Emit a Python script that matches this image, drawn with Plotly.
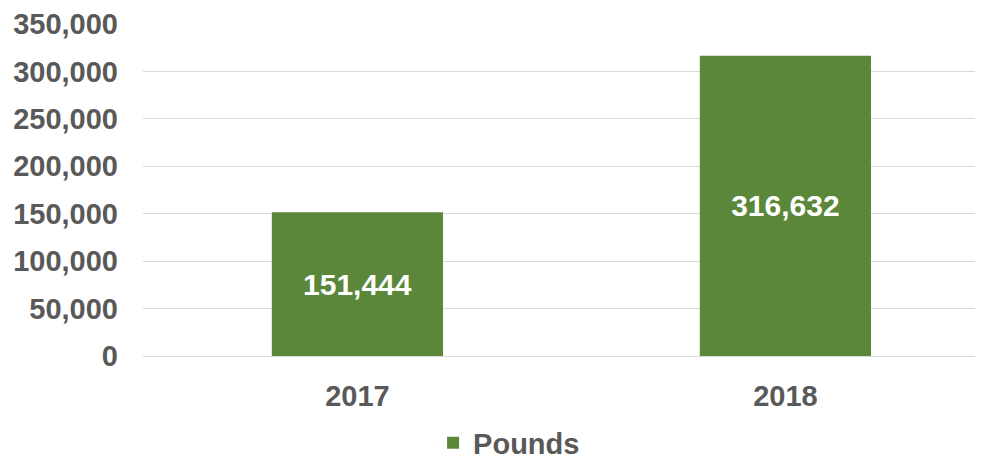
import plotly.graph_objects as go

years = ["2017", "2018"]
pounds = [151444, 316632]
y_ticks = [0, 50000, 100000, 150000, 200000, 250000, 300000, 350000]

text_color = "#595959"
bar_color = "#5B873A"
font_family = "Liberation Sans, Arial, sans-serif"

fig = go.Figure()
fig.add_trace(go.Bar(
    x=years,
    y=pounds,
    name="<b>Pounds</b>",
    marker=dict(color=bar_color, line=dict(width=0)),
    width=0.4,
    text=[f"<b>{v:,}</b>" for v in pounds],
    textposition="inside",
    insidetextanchor="middle",
    textfont=dict(color="white", size=30, family=font_family),
    textangle=0,
))

fig.update_layout(
    width=989,
    height=459,
    margin=dict(l=143, r=14, t=24, b=103, autoexpand=False),
    paper_bgcolor="white",
    plot_bgcolor="white",
    font=dict(family=font_family, color=text_color, size=29),
    showlegend=True,
    legend=dict(
        orientation="h",
        x=0.44, xanchor="center",
        y=-0.262, yanchor="middle",
        font=dict(size=29, color=text_color, family=font_family),
        itemwidth=30,
        tracegroupgap=0,
    ),
    xaxis=dict(
        type="category",
        range=[-0.501, 1.443],
        showgrid=False,
        showline=False,
        ticks="",
        tickvals=years,
        ticktext=[f"<b>{y}</b>" for y in years],
        ticklabelstandoff=20,
        tickfont=dict(size=29, color=text_color, family=font_family),
    ),
    yaxis=dict(
        range=[0, 350000],
        tickvals=y_ticks,
        ticktext=[f"<b>{v:,}</b>" for v in y_ticks],
        showgrid=True,
        gridcolor="#D9D9D9",
        gridwidth=1,
        zeroline=True,
        zerolinecolor="#D9D9D9",
        zerolinewidth=1,
        showline=False,
        ticks="",
        ticklabelstandoff=24,
        tickfont=dict(size=29, color=text_color, family=font_family),
    ),
)

fig.write_html("out.html")
